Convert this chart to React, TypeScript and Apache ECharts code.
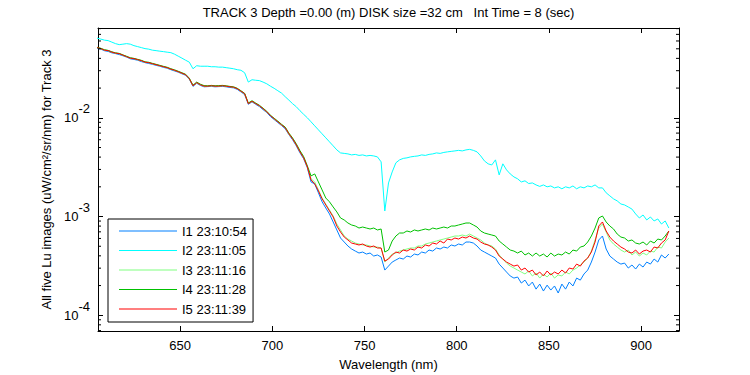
import React, { useEffect, useRef } from 'react';
import * as echarts from 'echarts';

const FONT = '"Liberation Sans", Arial, Helvetica, sans-serif';
const UNIT = 1e-4; // values below are in units of 1e-4 uW/cm^2/sr/nm
const X_MIN = 605.5;
const X_MAX = 920.5;
const Y_MIN = 6.93e-5;
const Y_MAX = 0.0812;

const titleText = 'TRACK 3 Depth =0.00 (m) DISK size =32 cm   Int Time = 8 (sec)';
const xAxisName = 'Wavelength (nm)';
const yAxisName = 'All five Lu images (uW/cm\u00B2/sr/nm) for Track 3';

const wavelengths = [
  605, 607, 609, 611, 613, 615, 617, 619, 621, 623, 625, 627, 629, 631, 633, 635, 637, 639, 641, 643,
  645, 647, 649, 651, 653, 655, 657, 659, 661, 663, 665, 667, 669, 671, 673, 675, 677, 679, 681, 683,
  685, 687, 689, 691, 693, 695, 697, 699, 701, 703, 705, 707, 709, 711, 713, 715, 717, 719, 721, 723,
  725, 727, 729, 731, 733, 735, 737, 739, 741, 743, 745, 747, 749, 751, 753, 755, 757, 759, 761, 763,
  765, 767, 769, 771, 773, 775, 777, 779, 781, 783, 785, 787, 789, 791, 793, 795, 797, 799, 801, 803,
  805, 807, 809, 811, 813, 815, 817, 819, 821, 823, 825, 827, 829, 831, 833, 835, 837, 839, 841, 843,
  845, 847, 849, 851, 853, 855, 857, 859, 861, 863, 865, 867, 869, 871, 873, 875, 877, 879, 881, 883,
  885, 887, 889, 891, 893, 895, 897, 899, 901, 903, 905, 907, 909, 911, 913, 915,
];

const seriesNames = ['I1 23:10:54', 'I2 23:11:05', 'I3 23:11:16', 'I4 23:11:28', 'I5 23:11:39'];
const seriesColors = ['#0080ff', '#00ffff', '#80ff80', '#00c000', '#ff0000'];

const i1 = [
  505, 497, 478, 470, 455, 447, 437, 425, 412, 396, 390, 383, 371, 362, 355, 348, 340, 333, 324, 318,
  307, 298, 290, 279, 270, 246, 208, 224, 213, 206, 207, 208, 206, 207, 208, 206, 203, 201, 194, 183,
  172, 137, 145, 137, 130, 121, 113, 103, 96, 89.5, 83.5, 77.5, 67.5, 60, 52, 44.2, 38.5, 31.1, 22.4, 21.4,
  17.4, 14.1, 12.2, 10.62, 8.81, 7.31, 6.06, 5.52, 5.03, 4.69, 4.47, 4.27, 4.37, 4.17, 4.27, 3.98, 4.08, 3.89, 2.87, 3.15,
  3.46, 3.63, 3.8, 3.71, 3.98, 3.89, 4.17, 4.08, 4.37, 4.27, 4.58, 4.47, 4.8, 4.69, 4.91, 4.8, 5.15, 5.03, 5.27, 5.15,
  5.52, 5.52, 5.39, 5.03, 4.58, 4.37, 4.17, 3.98, 3.8, 3.3, 3.01, 2.74, 2.5, 2.38, 2.44, 2.12, 2.27, 1.98, 2.17, 1.84,
  2.07, 1.76, 2.02, 1.8, 1.98, 1.68, 2.07, 1.84, 2.17, 1.98, 2.38, 2.27, 2.62, 2.87, 3.46, 4.37, 5.79, 6.35, 4.69, 3.98,
  3.71, 3.46, 3.3, 3.38, 3.01, 3.23, 2.94, 3.3, 3.08, 3.46, 3.3, 3.71, 3.46, 4.08, 3.8, 4.17,
];

const i2 = [
  641, 627, 612, 605, 584, 564, 551, 557, 564, 557, 538, 526, 514, 502, 496, 484, 479, 473, 468, 462,
  457, 441, 421, 402, 383, 366, 314, 337, 333, 333, 333, 329, 329, 326, 326, 322, 318, 314, 307, 303,
  286, 230, 243, 240, 238, 230, 221, 209, 199, 188, 178, 163.5, 151, 139, 129.5, 118, 108.5, 100, 91.1, 82.9,
  75.5, 68.8, 62.7, 57.1, 52.0, 47.3, 44.1, 43.6, 43.1, 42.1, 42.6, 41.6, 42.1, 41.1, 41.6, 41.1, 40.2, 35.8, 11.39, 21.9,
  28.3, 35.0, 37.5, 38.8, 39.3, 40.2, 40.7, 41.1, 42.1, 41.6, 42.6, 43.1, 44.1, 43.6, 44.6, 45.2, 45.7, 46.2, 46.8, 46.2,
  47.3, 47.9, 46.8, 45.2, 41.1, 36.6, 34.2, 33.3, 37.5, 26.4, 34.2, 29.7, 27.0, 25.2, 24.1, 22.4, 23.0, 21.6, 21.9, 20.9,
  20.2, 20.9, 20.0, 20.4, 19.5, 20.0, 19.1, 20.0, 19.5, 20.4, 19.1, 20.0, 19.5, 20.4, 20.0, 20.9, 19.5, 19.5, 17.4, 16.2,
  15.1, 14.4, 13.4, 13.1, 12.5, 11.9, 10.62, 9.67, 10.37, 9.23, 9.9, 9.02, 9.45, 8.4, 9.02, 7.65,
];

const i3 = [
  512, 501, 486, 478, 463, 451, 447, 430, 417, 401, 398, 387, 380, 365, 363, 352, 346, 336, 330, 321,
  312, 302, 294, 282, 274, 248, 212, 226, 217, 208, 210, 210, 210, 208, 212, 208, 207, 203, 198, 185,
  176, 140, 146, 140, 132, 124, 114, 106, 97, 91.5, 84.5, 79.5, 68, 61.5, 53, 45.5, 39.5, 31.8, 24.1, 22.4,
  18.6, 15.4, 13.4, 11.66, 10.13, 8.4, 7.31, 6.35, 5.92, 5.65, 5.39, 5.27, 5.15, 5.15, 5.03, 4.91, 4.91, 4.8, 3.46, 3.8,
  4.17, 4.27, 4.47, 4.58, 4.69, 4.8, 4.8, 5.03, 5.03, 5.27, 5.39, 5.52, 5.65, 5.79, 5.92, 6.06, 6.2, 6.35, 6.35, 6.5,
  6.35, 6.65, 6.35, 6.06, 5.79, 5.39, 5.15, 5.03, 4.69, 4.08, 3.71, 3.38, 3.15, 3.01, 2.87, 2.74, 2.62, 2.81, 2.5, 2.68,
  2.38, 2.62, 2.44, 2.68, 2.38, 2.56, 2.5, 2.74, 2.62, 2.87, 3.01, 3.23, 3.46, 3.8, 4.47, 5.79, 7.65, 8.4, 6.97, 5.79,
  5.27, 4.91, 4.58, 4.37, 4.58, 4.08, 4.37, 3.98, 4.27, 4.08, 4.47, 4.37, 4.91, 4.8, 5.52, 6.06,
];

const i4 = [
  518, 506, 489, 482, 466, 455, 449, 434, 420, 406, 400, 391, 382, 369, 365, 356, 348, 340, 332, 325,
  314, 306, 296, 286, 276, 252, 214, 230, 219, 212, 211, 213, 211, 212, 213, 211, 208, 206, 199, 188,
  177, 141, 149, 141, 134, 125, 116.5, 106, 99, 92.5, 86, 80.5, 70, 62.5, 54.5, 46.5, 40.5, 32.6, 25.8, 27.0,
  22.4, 18.6, 15.4, 14.1, 12.5, 11.13, 9.67, 9.23, 8.6, 8.21, 8.02, 7.65, 7.83, 7.65, 7.48, 7.65, 7.31, 7.48, 4.37, 4.58,
  5.65, 6.35, 6.81, 6.81, 7.14, 6.97, 7.31, 7.14, 7.31, 7.48, 7.31, 7.65, 7.48, 7.65, 7.83, 7.65, 8.02, 8.02, 8.21, 8.4,
  8.6, 8.6, 8.21, 7.83, 7.14, 6.81, 6.65, 6.5, 6.35, 5.65, 5.27, 4.91, 4.58, 4.47, 4.27, 4.47, 4.08, 4.27, 3.98, 4.27,
  3.98, 4.17, 3.89, 4.27, 3.98, 4.17, 4.08, 4.37, 4.17, 4.58, 4.47, 4.91, 5.03, 5.52, 6.35, 7.65, 9.67, 10.13, 8.81, 8.02,
  7.48, 6.65, 6.2, 6.06, 5.65, 5.79, 5.39, 5.27, 5.52, 5.15, 5.65, 5.39, 5.92, 5.79, 6.35, 7.14,
];

const i5 = [
  514, 502, 484, 479, 462, 452, 446, 431, 416, 402, 397, 388, 379, 366, 362, 353, 345, 337, 329, 322,
  311, 303, 293, 283, 273, 249, 211, 227, 216, 209, 209, 211, 209, 209, 211, 209, 206, 204, 197, 186,
  175.5, 139, 147, 139, 132.5, 123.5, 115, 105, 97.7, 91.1, 84.9, 79.2, 68.8, 61.2, 53.2, 45.2, 39.3, 31.8, 23.5, 21.4,
  18.2, 15.1, 13.1, 11.39, 9.9, 8.02, 6.97, 6.2, 5.79, 5.39, 5.27, 5.15, 5.27, 5.03, 4.91, 5.03, 4.8, 4.8, 3.54, 3.71,
  4.08, 4.37, 4.27, 4.58, 4.47, 4.69, 4.58, 4.91, 4.8, 5.15, 5.03, 5.39, 5.27, 5.65, 5.39, 5.92, 5.79, 6.06, 5.92, 6.2,
  6.06, 6.35, 6.06, 5.92, 5.52, 5.27, 5.15, 4.91, 4.58, 3.98, 3.71, 3.46, 3.3, 3.15, 3.23, 2.87, 3.01, 2.74, 2.87, 2.56,
  2.74, 2.5, 2.81, 2.56, 2.74, 2.62, 2.87, 2.68, 3.01, 2.94, 3.3, 3.15, 3.54, 3.8, 4.37, 5.52, 8.02, 8.81, 7.14, 6.2,
  5.65, 5.27, 4.91, 4.69, 4.37, 4.27, 4.58, 4.17, 4.47, 4.58, 4.37, 4.91, 4.8, 5.39, 5.79, 7.14,
];

const minorTickValues = [
  7e-5, 8e-5, 9e-5,
  2e-4, 3e-4, 4e-4, 5e-4, 6e-4, 7e-4, 8e-4, 9e-4,
  2e-3, 3e-3, 4e-3, 5e-3, 6e-3, 7e-3, 8e-3, 9e-3,
  2e-2, 3e-2, 4e-2, 5e-2, 6e-2, 7e-2, 8e-2,
];

// thin horizontal line icon (bounding box 58 x 14, visible stroke 1px in the middle)
const LEGEND_LINE_ICON = 'path://M0,0 L0,0 M0,6.5 L58,6.5 L58,7.5 L0,7.5 Z M58,14 L58,14';

export default function App() {
  const ref = useRef<HTMLDivElement>(null);

  useEffect(() => {
    if (!ref.current) return;
    const chart = echarts.init(ref.current, null, { renderer: 'svg' });
    const allSeries = [i1, i2, i3, i4, i5];
    const black = '#000';
    const textBase = { fontFamily: FONT, fontSize: 13, color: black };

    const lineSeries = allSeries.map((arr, k) => ({
      type: 'line',
      name: seriesNames[k],
      data: wavelengths.map((w, j) => [w, arr[j] * UNIT]),
      symbol: 'none',
      showSymbol: false,
      silent: true,
      lineStyle: { width: 1, color: seriesColors[k] },
      itemStyle: { color: seriesColors[k] },
      emphasis: { disabled: true },
    }));

    const minorTicks = {
      type: 'custom',
      name: 'minor-ticks',
      silent: true,
      clip: false,
      z: 5,
      data: minorTickValues.map((v) => [X_MIN, v]),
      renderItem: (_params: any, api: any) => {
        const v = api.value(1);
        const l = api.coord([X_MIN, v]);
        const r = api.coord([X_MAX, v]);
        return {
          type: 'group',
          children: [
            { type: 'line', shape: { x1: l[0], y1: l[1], x2: l[0] + 3, y2: l[1] }, style: { stroke: black, lineWidth: 1 } },
            { type: 'line', shape: { x1: r[0], y1: r[1], x2: r[0] - 3, y2: r[1] }, style: { stroke: black, lineWidth: 1 } },
          ],
        };
      },
    };

    const xCommon = {
      type: 'value',
      min: X_MIN,
      max: X_MAX,
      minInterval: 50,
      maxInterval: 50,
      splitLine: { show: false },
      axisLine: { show: true, onZero: false, lineStyle: { color: black, width: 1 } },
      axisTick: { show: true, inside: true, length: 5, lineStyle: { color: black, width: 1 } },
    };
    const yCommon = {
      type: 'log',
      logBase: 10,
      min: Y_MIN,
      max: Y_MAX,
      splitLine: { show: false },
      axisLine: { show: true, onZero: false, lineStyle: { color: black, width: 1 } },
      axisTick: { show: true, inside: true, length: 5, lineStyle: { color: black, width: 1 } },
    };

    chart.setOption({
      animation: false,
      backgroundColor: '#fff',
      grid: { left: 98, right: 71, top: 28, bottom: 44, containLabel: false, outerBoundsMode: 'none' },
      graphic: [
        {
          type: 'text',
          x: 388.5,
          y: 6,
          style: { text: titleText, textAlign: 'center', textVerticalAlign: 'top', font: `13px ${FONT}`, fill: black },
        },
      ],
      legend: {
        data: seriesNames.map((n, k) => ({ name: n, icon: LEGEND_LINE_ICON, itemStyle: { color: seriesColors[k] } })),
        orient: 'vertical',
        left: 108,
        top: 219,
        itemWidth: 58,
        itemHeight: 14,
        itemGap: 5.5,
        padding: [5, 6, 6, 11],
        borderColor: black,
        borderWidth: 1,
        borderRadius: 0,
        backgroundColor: '#fff',
        selectedMode: false,
        itemStyle: { borderWidth: 0 },
        textStyle: { ...textBase },
      },
      xAxis: [
        {
          ...xCommon,
          position: 'bottom',
          name: xAxisName,
          nameLocation: 'middle',
          nameGap: 27,
          nameTextStyle: { ...textBase },
          axisLabel: {
            ...textBase,
            margin: 8,
            showMinLabel: false,
            showMaxLabel: false,
            formatter: (v: number) => (Math.abs(v % 50) < 1e-6 ? String(v) : ''),
          },
        },
        {
          ...xCommon,
          position: 'top',
          axisLabel: { show: false },
        },
      ],
      yAxis: [
        {
          ...yCommon,
          position: 'left',
          name: yAxisName,
          nameLocation: 'middle',
          nameGap: 40,
          nameTextStyle: { ...textBase },
          axisLabel: {
            margin: 8,
            showMinLabel: false,
            showMaxLabel: false,
            formatter: (v: number) => {
              const lg = Math.log10(v);
              const e = Math.round(lg);
              if (Math.abs(lg - e) > 0.01) return '';
              return `{b|10}{s|${e}}`;
            },
            rich: {
              b: { ...textBase },
              s: { ...textBase, padding: [0, 0, 18, 0] },
            },
          },
        },
        {
          ...yCommon,
          position: 'right',
          axisLabel: { show: false },
        },
      ],
      series: [...lineSeries, minorTicks],
    });

    return () => {
      chart.dispose();
    };
  }, []);

  return (
    <div
      ref={ref}
      style={{ position: 'absolute', left: 0, top: 0, width: 750, height: 375, background: '#fff' }}
    />
  );
}
